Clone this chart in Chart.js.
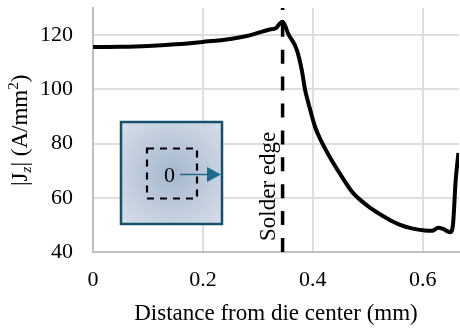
<!DOCTYPE html>
<html>
<head>
<meta charset="utf-8">
<style>
  html, body { margin: 0; padding: 0; background: #fff; }
  #wrap { width: 460px; height: 328px; }
</style>
<script src="https://cdn.jsdelivr.net/npm/chart.js@4"></script>
</head>
<body>
<div id="wrap"><canvas id="myChart" width="460" height="328"></canvas></div>
<script>
const distance = [0, 0.05, 0.1, 0.15, 0.2, 0.25, 0.28, 0.3, 0.32, 0.333, 0.34, 0.345, 0.35, 0.355, 0.371, 0.38, 0.386, 0.392, 0.404, 0.416, 0.434, 0.453, 0.474, 0.508, 0.537, 0.559, 0.58, 0.604, 0.617, 0.628, 0.637, 0.65, 0.655, 0.66, 0.665];
const current = [115.6, 115.7, 116, 116.6, 117.5, 118.6, 119.7, 120.8, 122, 122.6, 124.3, 124.9, 123.2, 120.6, 114.5, 107, 99.7, 94.9, 86.2, 80.6, 73.9, 67.7, 61.6, 55.8, 52.2, 50, 48.7, 47.9, 47.8, 48.9, 48.5, 47.3, 50, 66.6, 76.5];
const solderX = [0.345, 0.345];
const solderY = [40, 130];
const xTicks = [0, 0.2, 0.4, 0.6];
const yTicks = [40, 60, 80, 100, 120];

const serif = '"Liberation Serif", serif';

// inset, solder label and y title are annotations, drawn on top
const extras = {
  id: 'extras',
  afterDraw(chart) {
    const c = chart.ctx;
    c.save();

    const g = c.createRadialGradient(172, 173, 5, 172, 173, 72);
    g.addColorStop(0, '#a8bad0');
    g.addColorStop(1, '#d9dfe9');
    c.fillStyle = g;
    c.fillRect(121, 122, 101, 102);
    c.strokeStyle = '#15506e';
    c.lineWidth = 2.5;
    c.strokeRect(121, 122, 101, 102);

    c.strokeStyle = '#000';
    c.lineWidth = 2.2;
    c.setLineDash([7, 6]);
    c.strokeRect(147, 148.5, 50, 50);
    c.setLineDash([]);

    c.fillStyle = '#000';
    c.font = '22px ' + serif;
    c.textAlign = 'center';
    c.textBaseline = 'alphabetic';
    c.fillText('0', 169.5, 182);

    c.strokeStyle = '#1f6a8c';
    c.fillStyle = '#1f6a8c';
    c.lineWidth = 1.5;
    c.beginPath();
    c.moveTo(180, 174.5);
    c.lineTo(208, 174.5);
    c.stroke();
    c.beginPath();
    c.moveTo(207, 167);
    c.lineTo(221, 174.5);
    c.lineTo(207, 182);
    c.closePath();
    c.fill();

    c.fillStyle = '#000';
    c.save();
    c.translate(275, 241);
    c.rotate(-Math.PI / 2);
    c.textAlign = 'left';
    c.font = '23px ' + serif;
    c.fillText('Solder edge', 0, 0);
    c.restore();

    // y title has sub and superscript, so it goes piece by piece
    c.translate(27, 186);
    c.rotate(-Math.PI / 2);
    c.textAlign = 'left';
    const parts = [['|J', 23, 0], ['z', 15, 4], ['| (A/mm', 23, 0], ['2', 15, -9], [')', 23, 0]];
    let px = 0;
    parts.forEach(p => {
      c.font = (p[2] === 4 ? 'italic ' : '') + p[1] + 'px ' + serif;
      c.fillText(p[0], px, p[2]);
      px += c.measureText(p[0]).width;
    });
    c.restore();
  }
};

new Chart(document.getElementById('myChart'), {
  type: 'line',
  data: {
    datasets: [{
      data: distance.map((d, i) => ({ x: d, y: current[i] })),
      borderColor: '#000',
      borderWidth: 4,
      pointRadius: 0,
      cubicInterpolationMode: 'monotone'
    }, {
      data: solderX.map((d, i) => ({ x: d, y: solderY[i] })),
      borderColor: '#000',
      borderWidth: 3.5,
      borderDash: [14, 12.9],
      pointRadius: 0
    }]
  },
  options: {
    responsive: false,
    animation: false,
    layout: { padding: { top: 8, right: 1, bottom: 0, left: 0 } },
    plugins: { legend: { display: false }, tooltip: { enabled: false } },
    scales: {
      x: {
        type: 'linear',
        min: 0,
        max: 0.666,
        afterBuildTicks: s => { s.ticks = xTicks.map(v => ({ value: v })); },
        afterFit: s => { s.height = 76; s.paddingLeft = 0; s.paddingRight = 0; },
        grid: { color: '#dedede', lineWidth: 2, drawTicks: false },
        border: { color: '#bfbfbf', width: 2 },
        ticks: {
          color: '#000',
          padding: 15,
          maxRotation: 0,
          autoSkip: false,
          font: { family: serif, size: 22 },
          callback: v => String(v)
        },
        title: {
          display: true,
          text: 'Distance from die center (mm)',
          color: '#000',
          padding: { top: 7, bottom: 0 },
          font: { family: serif, size: 23 }
        }
      },
      y: {
        min: 40,
        max: 130,
        afterBuildTicks: s => { s.ticks = yTicks.map(v => ({ value: v })); },
        afterFit: s => { s.width = 93; s.paddingTop = 0; s.paddingBottom = 0; },
        grid: { color: '#dedede', lineWidth: 2, drawTicks: false },
        border: { color: '#bfbfbf', width: 2 },
        ticks: {
          color: '#000',
          padding: 20,
          font: { family: serif, size: 22 }
        }
      }
    }
  },
  plugins: [extras]
});
</script>
</body>
</html>
